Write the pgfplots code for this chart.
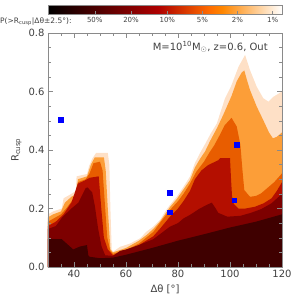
\documentclass[border=0pt]{standalone}
\usepackage{pgfplots}
\pgfplotsset{compat=1.18}
\usepackage{fontspec}
\setmainfont{DejaVu Sans}
\definecolor{c50}{HTML}{3F0000}
\definecolor{c20}{HTML}{7D0000}
\definecolor{c10}{HTML}{B40F00}
\definecolor{c5}{HTML}{E85D00}
\definecolor{c2}{HTML}{FC9E38}
\definecolor{c1}{HTML}{FEE0C6}
\definecolor{framec}{HTML}{8A8A8A}
\definecolor{textc}{HTML}{404040}
\begin{document}
\begin{tikzpicture}
\begin{axis}[
  at={(0,0)}, anchor=south west,
  scale only axis, width=234pt, height=234pt,
  xmin=30, xmax=120, ymin=0, ymax=0.8,
  axis on top,
  axis line style={framec, line width=0.6pt},
  xtick={40,60,80,100,120},
  minor xtick={30,35,...,120},
  ytick={0,0.2,0.4,0.6,0.8},
  minor ytick={0,0.05,...,0.8},
  tick align=inside,
  major tick length=5pt, minor tick length=3pt,
  tick style={framec, line width=0.5pt},
  yticklabel style={/pgf/number format/.cd, fixed, fixed zerofill, precision=1},
  /pgf/number format/assume math mode=true,
  ticklabel style={font=\fontsize{10}{12}\selectfont, text=textc},
  xlabel={Δθ [°]},
  ylabel={R\textsubscript{cusp}},
  label style={font=\fontsize{10}{12}\selectfont, text=textc},
  colormap={idl}{rgb255(0cm)=(0,0,0) rgb255(120cm)=(174,0,0) rgb255(176cm)=(255,108,0) rgb255(190cm)=(255,135,0) rgb255(255cm)=(255,255,255)},
  point meta min=0, point meta max=1,
  colorbar horizontal,
  colorbar shift/.style={},
  colorbar style={
     at={(parent axis.north west)}, anchor=south west, yshift=19pt,
     scale only axis, width=234pt, height=9pt,
     xmin=0, xmax=1,
     xtick={0.2,0.355,0.51,0.66,0.81,0.96},
     xticklabels={50\%,20\%,10\%,5\%,2\%,1\%},
     xticklabel pos=left,
     xtick pos=left,
     tick align=inside,
     major tick length=3pt,
     tick style={framec, line width=0.5pt},
     axis line style={framec, line width=0.5pt},
     xticklabel style={font=\fontsize{7}{8}\selectfont, text=textc},
  },
]
% 1% level
\addplot[fill=c1, draw=none] coordinates {(30,0.18)(32,0.19)(35.3,0.2)(36,0.235)(39,0.25)(40.7,0.26)(41,0.31)(45,0.318)(45.8,0.345)(47,0.37)(48.5,0.39)(53,0.39)(53.6,0.35)(54,0.2)(54.5,0.06)(55,0.052)(57.7,0.069)(61.5,0.08)(65.4,0.098)(67.9,0.121)(70.5,0.138)(73.1,0.161)(75,0.189)(76.9,0.212)(79.5,0.24)(82.1,0.274)(84.6,0.309)(86.5,0.355)(88.5,0.39)(90.4,0.42)(92.5,0.455)(94.9,0.49)(98.1,0.577)(100.5,0.62)(103.3,0.685)(105.8,0.725)(107.7,0.673)(110.3,0.616)(112.8,0.577)(114.8,0.565)(116.7,0.582)(120,0.6)} \closedcycle;
% 2% level
\addplot[fill=c2, draw=none] coordinates {(30,0.17)(32,0.18)(35,0.19)(36.5,0.22)(39,0.24)(41,0.25)(41.5,0.30)(45,0.31)(46.5,0.35)(48,0.375)(51.5,0.375)(52.2,0.33)(53,0.2)(54,0.06)(55,0.05)(60,0.065)(65,0.09)(68,0.11)(70.5,0.13)(73,0.155)(75,0.18)(76.9,0.205)(79.5,0.232)(82.1,0.265)(84.6,0.297)(86.5,0.34)(88.5,0.37)(90.4,0.395)(92.3,0.43)(95,0.475)(97.4,0.52)(100.6,0.585)(102.6,0.635)(104.5,0.665)(105.5,0.672)(106.5,0.64)(107.7,0.605)(110.3,0.548)(112.8,0.502)(115,0.46)(116.5,0.44)(118,0.445)(120,0.46)} \closedcycle;
% 5% level
\addplot[fill=c5, draw=none] coordinates {(30,0.155)(33,0.17)(35,0.18)(37,0.2)(40,0.235)(41.5,0.29)(44.5,0.30)(46,0.32)(47.5,0.355)(50,0.36)(51,0.33)(52,0.2)(52.8,0.1)(54,0.055)(55,0.045)(60,0.058)(65,0.08)(70.5,0.12)(73,0.15)(76.9,0.195)(80,0.225)(82.1,0.25)(84.6,0.285)(87,0.325)(90,0.36)(92,0.39)(94,0.417)(96,0.45)(98,0.485)(100.6,0.51)(102.6,0.48)(104,0.417)(104.8,0.33)(105.5,0.263)(107.7,0.24)(110,0.243)(112,0.252)(117,0.29)(120,0.32)} \closedcycle;
% 10% level
\addplot[fill=c10, draw=none] coordinates {(30,0.14)(33,0.155)(36,0.18)(39,0.22)(41.5,0.285)(44,0.295)(46,0.305)(49.5,0.31)(50.5,0.2)(51.5,0.1)(53,0.06)(55,0.04)(60,0.055)(65,0.075)(70.5,0.105)(73,0.13)(76.9,0.172)(80,0.2)(82.1,0.225)(84.6,0.26)(86.5,0.3)(89,0.33)(91.7,0.349)(95.5,0.365)(96.2,0.372)(100,0.372)(100.4,0.3)(100.8,0.24)(101.5,0.215)(103.2,0.2)(106,0.2)(109.6,0.206)(113,0.218)(116,0.235)(118,0.26)(120,0.29)} \closedcycle;
% 20% level
\addplot[fill=c20, draw=none] coordinates {(30,0.13)(33,0.14)(35.5,0.17)(39,0.2)(41.7,0.22)(44.5,0.27)(45.2,0.272)(47,0.255)(48,0.21)(49.3,0.13)(50.6,0.07)(52,0.04)(55,0.038)(57.7,0.055)(60,0.06)(65,0.075)(70.5,0.095)(76.9,0.138)(80,0.15)(82.1,0.166)(84.6,0.178)(88,0.198)(91,0.212)(93,0.22)(94.5,0.2)(95.5,0.185)(99,0.172)(104,0.175)(108,0.185)(112,0.198)(116,0.218)(120,0.25)} \closedcycle;
% 50% level
\addplot[fill=c50, draw=none] coordinates {(30,0.095)(35.3,0.095)(39.7,0.06)(42.3,0.07)(45,0.075)(45.5,0.04)(46,0.035)(50,0.03)(55,0.032)(60,0.042)(70,0.065)(80,0.09)(90,0.112)(100,0.135)(110,0.155)(120,0.18)} \closedcycle;
% observed systems
\addplot[only marks, mark=square*, mark size=2.3pt, mark options={fill=blue, draw=blue}] coordinates {(34.9,0.503)(76.9,0.255)(76.9,0.187)(102.5,0.418)(101.6,0.229)};
\node[anchor=east, inner sep=0pt, text=textc, font=\fontsize{10}{12}\selectfont] at (rel axis cs:0.94,0.94) {M=10\textsuperscript{10}M$_{\odot}$, z=0.6, Out};
\end{axis}
\node[anchor=west, inner sep=0pt, text=textc, font=\fontsize{7.5}{9}\selectfont] at (-48pt,245pt) {P(>R\textsubscript{cusp}|Δθ±2.5°):};
\pgfresetboundingbox
\path[use as bounding box] (-48pt,-33pt) rectangle (252pt,267pt);
\end{tikzpicture}
\end{document}
